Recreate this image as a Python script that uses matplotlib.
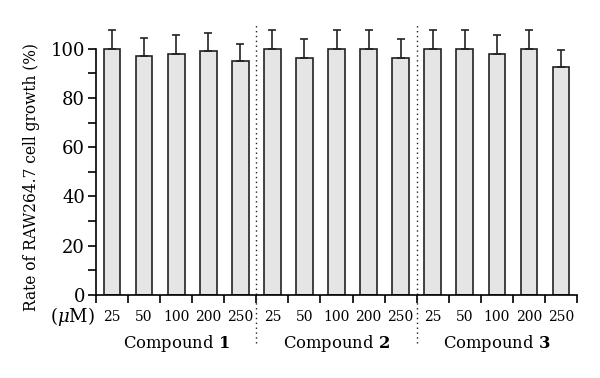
import numpy as np
import matplotlib
matplotlib.use("Agg")
import matplotlib.pyplot as plt

# Data
compounds = ["1", "2", "3"]
doses = ["25", "50", "100", "200", "250"]
growth = [100, 97, 98, 99, 95,
          100, 96, 100, 100, 96,
          100, 100, 98, 100, 92.5]
err = [7.5, 7.5, 7.5, 7.5, 7.0,
       7.5, 7.8, 7.5, 7.5, 7.8,
       7.5, 7.5, 7.5, 7.5, 7.0]

plt.rcParams["font.family"] = "DejaVu Serif"
plt.rcParams["mathtext.fontset"] = "dejavuserif"

fig = plt.figure(figsize=(6, 3.78), dpi=100)
ax = fig.add_axes([0.16, 0.2196, 0.8017, 0.717])

n = len(growth)
x = np.arange(n) + 0.5
ax.bar(x, growth, width=0.52, color="#e5e5e5", edgecolor="#222222", linewidth=1.2, zorder=2)
ax.errorbar(x, growth, yerr=[np.zeros(n), err], fmt="none", ecolor="#222222",
            elinewidth=1.2, capsize=3, capthick=1.2, zorder=3)

ax.set_xlim(0, n)
ax.set_ylim(0, 110)
ax.spines["top"].set_visible(False)
ax.spines["right"].set_visible(False)
ax.spines["left"].set_bounds(0, 100)
for s in ["left", "bottom"]:
    ax.spines[s].set_linewidth(1.2)

ax.set_yticks(np.arange(0, 101, 20))
ax.set_yticks(np.arange(10, 100, 20), minor=True)
ax.tick_params(axis="y", which="major", length=6, width=1.2, labelsize=13, pad=2)
ax.tick_params(axis="y", which="minor", length=6, width=1.2)

ax.set_xticks(np.arange(0, n + 1))
ax.set_xticklabels([])
ax.set_xticks(x, minor=True)
ax.set_xticklabels(doses * len(compounds), minor=True)
ax.tick_params(axis="x", which="major", length=6, width=1.2)
ax.tick_params(axis="x", which="minor", length=0, labelsize=10, pad=11)

ax.set_ylabel("Rate of RAW264.7 cell growth (%)", fontsize=11.2)
ax.yaxis.set_label_coords(-0.116, 0.435)

# group separators
for b in [5, 10]:
    ax.axvline(b, ymin=-0.177, ymax=1.0, color="#222222", linestyle=(0, (1, 2.5)),
               linewidth=1.0, clip_on=False)

ax.text(-0.05, -0.078, r"($\mu$M)", transform=ax.transAxes, fontsize=13,
        ha="center", va="center")
for i, c in enumerate(compounds):
    ax.text(i * 5 + 2.5, -0.18, "Compound $\\mathbf{" + c + "}$", transform=ax.get_xaxis_transform(),
            fontsize=11.8, ha="center", va="center")

fig.savefig("out.png", dpi=100)
